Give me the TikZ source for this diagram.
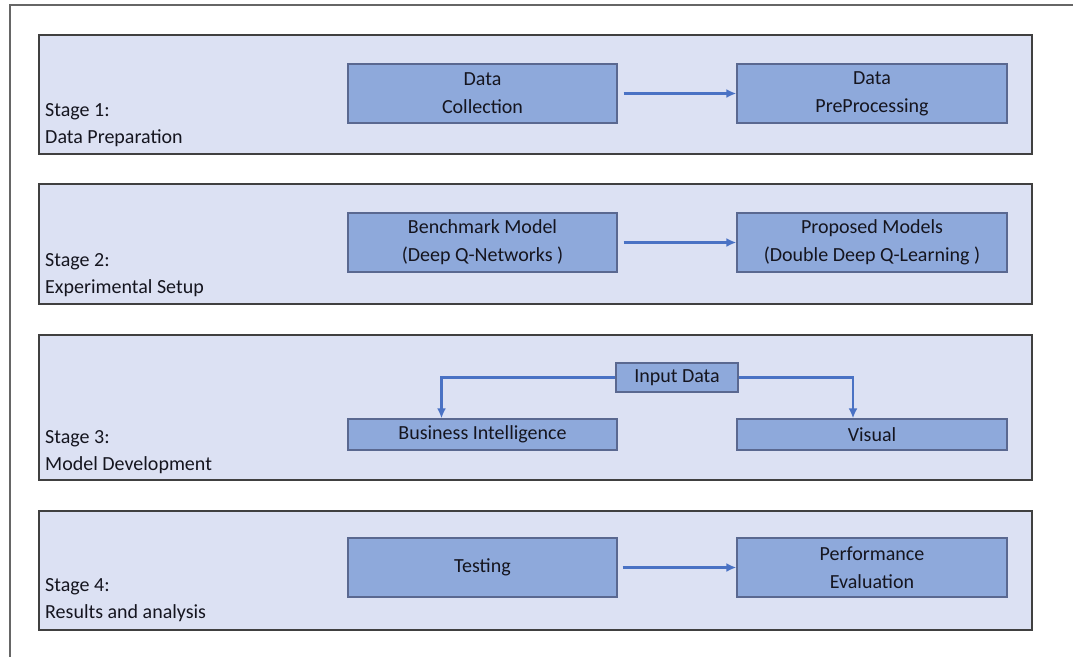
\documentclass[tikz,border=0pt]{standalone}
\usepackage{fontspec}
\setmainfont{Carlito}
\usepackage{tikz}
\usetikzlibrary{arrows.meta,calc}

\definecolor{panelfill}{HTML}{DCE1F3}
\definecolor{boxfill}{HTML}{8EA9DB}
\definecolor{boxline}{HTML}{5A6890}
\definecolor{flowline}{HTML}{4A72C4}
\definecolor{textcol}{HTML}{15151F}

\begin{document}
\begin{tikzpicture}[x=1pt,y=-1pt,
    every node/.style={font=\fontsize{20}{28}\selectfont, text=textcol},
    stagepanel/.style={draw=black!75, line width=2pt, fill=panelfill, inner sep=0pt},
    stepbox/.style={draw=boxline, line width=1.3pt, fill=boxfill, align=center, inner sep=0pt},
    stagelabel/.style={anchor=west, align=left, inner sep=0pt, font=\fontsize{20}{27}\selectfont},
    flow/.style={draw=flowline, line width=2.4pt, -{Latex[length=10pt,width=9pt]}}]
  \useasboundingbox (0,0) rectangle (1073,657);

  % frame
  \draw[black!60, line width=2pt] (1073,5) -- (10,5) -- (10,657);

  % stage panels
  \node[stagepanel, minimum width=993pt, minimum height=119pt] (S1) at (535.5,94.5) {};
  \node[stagepanel, minimum width=993pt, minimum height=120pt] (S2) at (535.5,244) {};
  \node[stagepanel, minimum width=993pt, minimum height=145pt] (S3) at (535.5,407.5) {};
  \node[stagepanel, minimum width=993pt, minimum height=119pt] (S4) at (535.5,570.5) {};

  \node[stagelabel] (L1) at (45,125.5) {Stage 1:\\Data Preparation};
  \node[stagelabel] (L2) at (45,275) {Stage 2:\\Experimental Setup};
  \node[stagelabel] (L3) at (45,452) {Stage 3:\\Model Development};
  \node[stagelabel] (L4) at (45,600.5) {Stage 4:\\Results and analysis};

  % stage 1
  \node[stepbox, minimum width=269pt, minimum height=59pt] (collect) at (482.5,93.5) {Data\\Collection};
  \node[stepbox, minimum width=270pt, minimum height=59pt] (prep) at (872,93.5) {Data\\PreProcessing};
  % stage 2
  \node[stepbox, minimum width=269pt, minimum height=59pt] (bench) at (482.5,242.5) {Benchmark Model\\(Deep Q-Networks )};
  \node[stepbox, minimum width=270pt, minimum height=59pt] (proposed) at (872,242.5) {Proposed Models\\(Double Deep Q-Learning )};
  % stage 3
  \node[stepbox, minimum width=122pt, minimum height=29pt] (input) at (677,377.5) {Input Data};
  \node[stepbox, minimum width=269pt, minimum height=31pt] (bi) at (482.5,434.5) {Business Intelligence};
  \node[stepbox, minimum width=270pt, minimum height=31pt] (visual) at (872,434.5) {Visual};
  % stage 4
  \node[stepbox, minimum width=269pt, minimum height=59pt] (testing) at (482.5,567.5) {Testing};
  \node[stepbox, minimum width=270pt, minimum height=59pt] (perf) at (872,567.5) {Performance\\Evaluation};

  \draw[flow, shorten <=6pt] (collect) -- (prep);
  \draw[flow, shorten <=6pt] (bench) -- (proposed);
  \draw[flow, shorten <=5pt] (testing) -- (perf);
  \draw[flow] (input.west) -| ([xshift=-41pt]bi.north);
  \draw[flow] (input.east) -| ([xshift=-19pt]visual.north);

\end{tikzpicture}
\end{document}
